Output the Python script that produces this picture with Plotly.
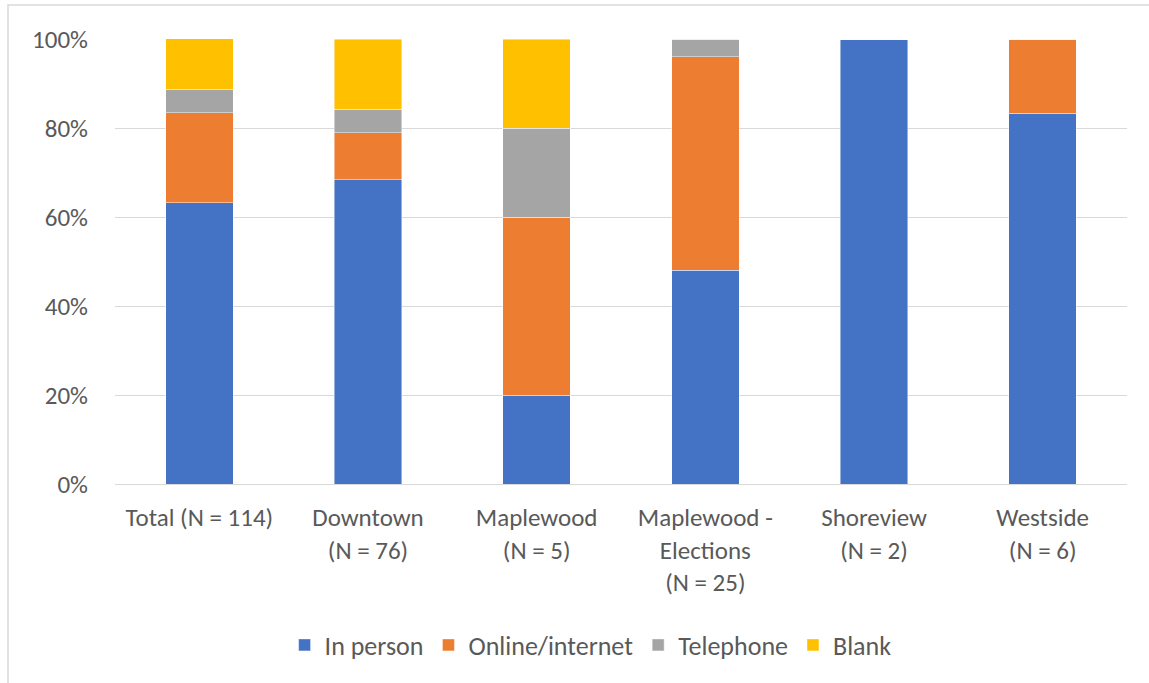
import plotly.graph_objects as go

categories = ["Total (N = 114)", "Downtown<br>(N = 76)", "Maplewood<br>(N = 5)",
              "Maplewood -<br>Elections<br>(N = 25)", "Shoreview<br>(N = 2)", "Westside<br>(N = 6)"]
in_person = [63.2, 68.4, 20.0, 48.0, 100.0, 83.3]
online = [20.2, 10.5, 40.0, 48.0, 0.0, 16.7]
telephone = [5.3, 5.3, 20.0, 4.0, 0.0, 0.0]
blank = [11.4, 15.8, 20.0, 0.0, 0.0, 0.0]

series = [("In person", in_person, "#4472C4"),
          ("Online/internet", online, "#ED7D31"),
          ("Telephone", telephone, "#A5A5A5"),
          ("Blank", blank, "#FFC000")]

FONT = "Carlito, Calibri, Lato, sans-serif"
FS = 25
W, H = 1149, 683
L, R, T, B = 115, 22, 39, 199
pw, ph = W - L - R, H - T - B

fig = go.Figure()
for name, vals, col in series:
    fig.add_trace(go.Bar(x=categories, y=vals, name=name,
                         marker=dict(color=col, line=dict(color="rgba(255,255,255,0.6)", width=0.75)),
                         width=0.4))

def px_x(p):
    return (p - L) / pw

def px_y(p):
    return (H - B - p) / ph

fig.add_shape(type="rect", xref="paper", yref="paper",
              x0=px_x(8), x1=px_x(1160), y0=px_y(700), y1=px_y(5),
              line=dict(color="#D9D9D9", width=1.5), fillcolor="rgba(0,0,0,0)", layer="below")

fig.add_annotation(text="<b>Figure 3. Mode of Response by Location</b>", xref="paper", yref="paper",
                   x=px_x(8), y=px_y(-12), xanchor="left", yanchor="middle", showarrow=False,
                   font=dict(family="Liberation Serif, Times New Roman, serif", size=21, color="#000000"))

fig.update_layout(
    width=W, height=H, barmode="stack",
    margin=dict(l=L, r=R, t=T, b=B, autoexpand=False),
    paper_bgcolor="white", plot_bgcolor="white",
    font=dict(family=FONT, size=FS, color="#595959"),
    showlegend=True,
    legend=dict(orientation="h", xref="container", yref="container",
                x=0.514, xanchor="center", y=1 - 645 / H, yanchor="middle",
                font=dict(family=FONT, size=26, color="#595959"),
                itemwidth=30, traceorder="normal"),
    xaxis=dict(showgrid=False, showline=True, linecolor="#D9D9D9", linewidth=1,
               ticks="", tickfont=dict(size=FS), ticklabelstandoff=11),
    yaxis=dict(range=[0, 100], tickvals=[0, 20, 40, 60, 80, 100],
               ticktext=["0%", "20%", "40%", "60%", "80%", "100%"],
               showgrid=True, gridcolor="#D9D9D9", gridwidth=1,
               zeroline=False, showline=False, ticks="",
               ticklabelstandoff=26, tickfont=dict(size=FS)),
)

fig.write_html("out.html")
